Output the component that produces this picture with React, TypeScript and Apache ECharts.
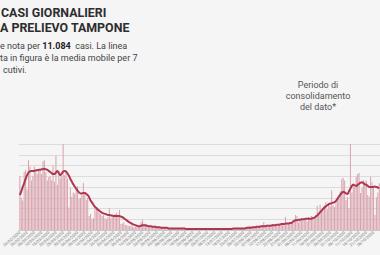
import React, { useEffect, useRef } from "react";
import * as echarts from "echarts";

const START_DATE = "2020-02-24";
const DAY_COUNT = 250;

// daily cases (bars)
const dailyCases: number[] = [
  100, 60, 55, 108, 112, 76, 130, 118, 92, 100,
  118, 110, 104, 112, 110, 104, 128, 130, 108, 92,
  98, 100, 92, 120, 90, 138, 84, 110, 96, 100,
  160, 102, 108, 96, 42, 78, 62, 70, 68, 74,
  82, 58, 60, 65, 88, 70, 56, 60, 26, 30,
  20, 22, 45, 43, 41, 32, 30, 26, 28, 22,
  20, 24, 41, 22, 24, 26, 30, 32, 26, 37,
  11, 12, 14, 10, 9, 8, 7, 9, 6, 5,
  6, 5, 7, 8, 15, 19, 12, 8, 6, 5,
  7, 5, 6, 4, 8, 6, 5, 4, 5, 4,
  4, 3, 5, 4, 3, 2, 4, 3, 3, 2,
  3, 2, 4, 3, 2, 3, 2, 2, 3, 2,
  2, 1, 2, 3, 2, 1, 2, 2, 3, 1,
  2, 2, 1, 3, 2, 2, 1, 2, 3, 2,
  2, 3, 1, 2, 2, 3, 2, 4, 2, 3,
  3, 4, 3, 2, 4, 3, 3, 5, 4, 8,
  5, 6, 4, 7, 6, 5, 8, 6, 9, 15,
  7, 9, 8, 6, 10, 11, 11, 9, 10, 8,
  12, 10, 11, 9, 24, 13, 11, 14, 12, 16,
  18, 28, 26, 14, 20, 22, 18, 22, 20, 16,
  24, 22, 26, 24, 20, 28, 45, 30, 47, 36,
  40, 45, 52, 38, 50, 44, 74, 46, 43, 50,
  55, 61, 72, 95, 97, 92, 56, 62, 41, 162,
  70, 87, 80, 99, 104, 106, 69, 78, 93, 90,
  92, 65, 62, 99, 89, 80, 28, 61, 70, 87,
];

// 7-day moving average (line)
const movingAverage: number[] = [
  65, 72, 80, 87, 95, 102, 107, 109, 110, 110,
  110, 111, 111, 112, 112, 113, 113, 114, 113, 112,
  110, 108, 106, 104, 104, 107, 110, 106, 102, 105,
  109, 110, 109, 105, 101, 95, 90, 85, 81, 77,
  73, 70, 68, 68, 69, 69, 67, 65, 61, 55,
  51, 47, 43, 41, 38, 36, 34, 32, 31, 30,
  29, 28, 28, 27, 27, 26, 26, 26, 26, 26,
  25, 24, 22, 20, 18, 16, 14, 13, 11, 10,
  9, 8, 7, 7, 8, 9, 9, 9, 8, 7,
  7, 7, 6, 6, 6, 5, 5, 5, 4, 4,
  4, 4, 4, 3, 3, 3, 3, 3, 3, 3,
  3, 3, 3, 3, 3, 2, 2, 2, 2, 2,
  2, 2, 2, 2, 2, 2, 2, 2, 2, 2,
  2, 2, 2, 2, 2, 2, 2, 2, 2, 2,
  2, 2, 2, 2, 2, 2, 2, 2, 3, 3,
  3, 3, 3, 3, 3, 3, 3, 4, 4, 4,
  4, 5, 5, 5, 6, 6, 6, 7, 7, 7,
  7, 8, 8, 8, 8, 9, 9, 9, 10, 10,
  10, 11, 11, 11, 12, 12, 12, 13, 13, 15,
  17, 18, 18, 19, 19, 20, 20, 20, 21, 21,
  21, 21, 21, 22, 23, 25, 27, 30, 33, 36,
  39, 42, 44, 46, 48, 49, 50, 51, 52, 54,
  58, 62, 66, 69, 71, 70, 68, 67, 72, 77,
  82, 84, 83, 82, 84, 86, 88, 89, 87, 85,
  84, 82, 80, 80, 80, 80, 81, 80, 79, 78,
];

const titleLines = ["CASI GIORNALIERI", "A PRELIEVO TAMPONE"];
const subtitleLines = [
  "e nota per {b|11.084}  casi. La linea",
  "ta in figura è la media mobile per 7",
  "cutivi.",
];
const noteLines = ["Periodo di", "consolidamento", "del dato*"];

function pad(n: number) {
  return n < 10 ? "0" + n : String(n);
}
const categories: string[] = [];
{
  const d0 = new Date(START_DATE + "T12:00:00Z");
  for (let i = 0; i < DAY_COUNT; i++) {
    const d = new Date(d0.getTime() + i * 86400000);
    categories.push(
      pad(d.getUTCDate()) + "/" + pad(d.getUTCMonth() + 1) + "/" + d.getUTCFullYear()
    );
  }
}

const FONT = "Roboto, 'Noto Sans', sans-serif";

export default function App() {
  const ref = useRef<HTMLDivElement>(null);
  useEffect(() => {
    document.body.style.margin = "0";
    document.body.style.background = "#f5f5f5";
    if (!ref.current) return;
    const chart = echarts.init(ref.current, null, { renderer: "svg" });
    chart.setOption({
      animation: false,
      backgroundColor: "#f5f5f5",
      textStyle: { fontFamily: FONT },
      grid: { left: 0, right: 0, top: 144, bottom: 25, containLabel: false },
      xAxis: {
        type: "category",
        data: categories,
        axisLine: { show: true, lineStyle: { color: "#c8c8c8", width: 1 } },
        axisTick: { show: false },
        axisLabel: {
          interval: 4,
          rotate: 40,
          fontSize: 4,
          color: "#777",
          margin: 2,
          fontFamily: FONT,
        },
      },
      yAxis: {
        type: "value",
        min: 0,
        max: 160,
        interval: 20,
        axisLabel: { show: false },
        axisLine: { show: false },
        axisTick: { show: false },
        splitLine: { lineStyle: { color: "#dcdcdc", width: 1 } },
      },
      series: [
        {
          type: "bar",
          data: dailyCases,
          barCategoryGap: "30%",
          itemStyle: { color: "#d9a3ad" },
          silent: true,
        },
        {
          type: "line",
          data: movingAverage,
          smooth: 0.3,
          symbol: "none",
          lineStyle: { color: "#ad3650", width: 2 },
          silent: true,
        },
      ],
      graphic: [
        ...titleLines.map((t, i) => ({
          type: "text",
          x: i === 0 ? 1 : 0,
          y: 12.8 + i * 14.7,
          style: {
            text: t,
            fontFamily: FONT,
            fontSize: 12.4,
            fontWeight: "bold",
            fill: "#2d2d2d",
            verticalAlign: "middle",
            align: "left",
          },
        })),
        ...subtitleLines.map((t, i) => ({
          type: "text",
          x: i === 2 ? 3 : 0,
          y: 45.5 + i * 12.3,
          style: {
            text: t,
            fontFamily: FONT,
            fontSize: 9,
            fill: "#444",
            verticalAlign: "middle",
            align: "left",
            rich: {
              b: { fontFamily: FONT, fontSize: 9, fontWeight: "bold", fill: "#222" },
            },
          },
        })),
        ...noteLines.map((t, i) => ({
          type: "text",
          x: 318,
          y: 84.5 + i * 11.3,
          style: {
            text: t,
            fontFamily: FONT,
            fontSize: 9,
            fill: "#555",
            verticalAlign: "middle",
            align: "center",
          },
        })),
      ],
    });
    return () => chart.dispose();
  }, []);
  return <div ref={ref} style={{ width: 380, height: 255 }} />;
}
